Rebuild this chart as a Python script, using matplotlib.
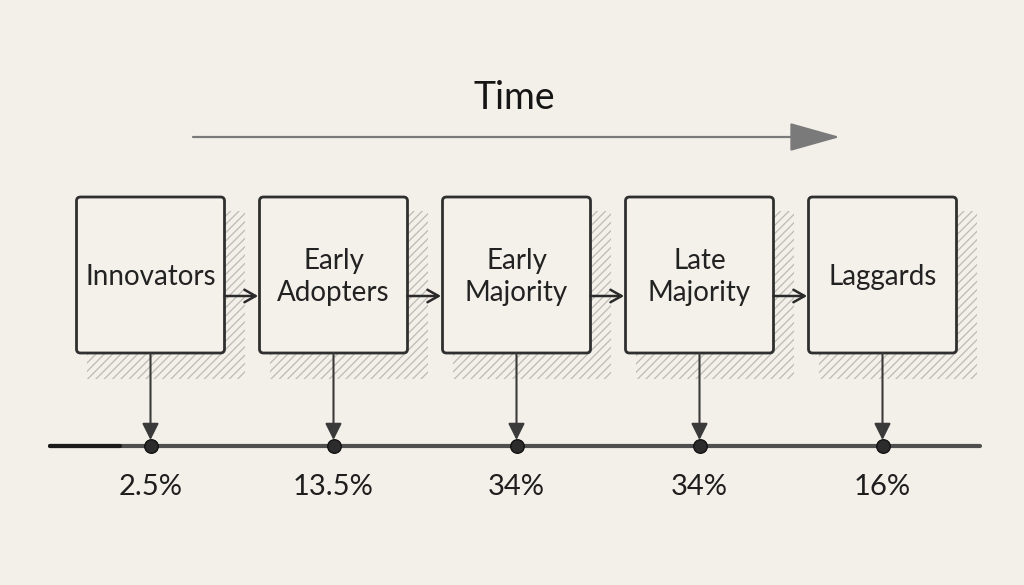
import matplotlib
matplotlib.use("Agg")
import matplotlib.pyplot as plt
from matplotlib.patches import FancyBboxPatch, Rectangle, FancyArrowPatch

categories = ["Innovators", "Early\nAdopters", "Early\nMajority", "Late\nMajority", "Laggards"]
shares = [2.5, 13.5, 34, 34, 16]
share_labels = ["2.5%", "13.5%", "34%", "34%", "16%"]
axis_title = "Time"

BG = "#f3f0e9"
INK = "#2f2f2f"

plt.rcParams['hatch.linewidth'] = 0.9
plt.rcParams['hatch.color'] = "#aeaba5"

fig = plt.figure(figsize=(10.24, 5.85), dpi=100, facecolor=BG)
ax = fig.add_axes([0, 0, 1, 1])
ax.set_xlim(0, 1024)
ax.set_ylim(585, 0)
ax.axis("off")
ax.set_facecolor(BG)

x0, step = 150.5, 183.0
bw, bh = 148, 156
btop = 197
line_y = 446
font = ["Lato", "DejaVu Sans"]

centers = [x0 + i * step for i in range(len(categories))]

for i, (cx, name) in enumerate(zip(centers, categories)):
    left = cx - bw / 2
    # hatched shadow
    sh = Rectangle((left + 10, btop + 14), bw + 10, bh + 12, facecolor=BG,
                   edgecolor="#bdbab4", hatch="////", lw=0, zorder=1)
    ax.add_patch(sh)
    box = FancyBboxPatch((left, btop), bw, bh, boxstyle="round,pad=0,rounding_size=4",
                         facecolor="#f4f1eb", edgecolor=INK, lw=2.0, zorder=3)
    ax.add_patch(box)
    ax.text(cx, btop + bh / 2 + 2, name, ha="center", va="center", fontsize=20,
            family=font, color="#222222", zorder=4, linespacing=1.3)
    # vertical arrow to timeline
    ax.add_patch(FancyArrowPatch((cx, btop + bh), (cx, line_y - 6),
                                 arrowstyle="-|>,head_length=10,head_width=5",
                                 color="#3a3a3a", lw=1.5, zorder=4, shrinkA=0, shrinkB=0))
    # horizontal arrow to next box
    if i < len(categories) - 1:
        ax.add_patch(FancyArrowPatch((left + bw, 296), (centers[i + 1] - bw / 2, 296),
                                     arrowstyle="->,head_length=8,head_width=4.5",
                                     color="#2a2a2a", lw=1.8, zorder=4, shrinkA=0, shrinkB=1))

# timeline
ax.plot([50, 980], [line_y, line_y], color="#4f4f4f", lw=3.0, solid_capstyle="round", zorder=2)
ax.plot([50, 120], [line_y, line_y], color="#1a1a1a", lw=3.0, solid_capstyle="round", zorder=2)
ax.scatter(centers, [line_y] * len(centers), s=95, color="#2c2c2c", edgecolor="#111111",
           lw=1, zorder=5)
for cx, lab, v in zip(centers, share_labels, shares):
    ax.text(cx, 487, lab, ha="center", va="center", fontsize=21, family=font,
            color="#1e1e1e")

# time arrow
ax.text(514, 98, axis_title, ha="center", va="center", fontsize=27, family=font, color="#151515")
ax.add_patch(FancyArrowPatch((193, 137), (840, 137),
                             arrowstyle="-|>,head_length=32,head_width=9",
                             color="#7a7a7a", lw=1.6, zorder=3, shrinkA=0, shrinkB=0))

fig.savefig("out.png", dpi=100, facecolor=BG)
